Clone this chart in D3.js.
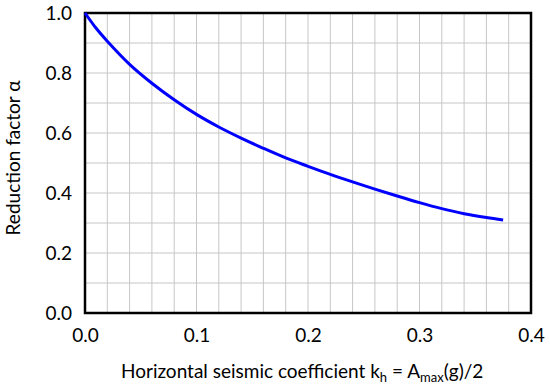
<!DOCTYPE html>
<html>
<head>
<meta charset="utf-8">
<script src="https://cdn.jsdelivr.net/npm/d3@7"></script>
<style>
  body { margin: 0; background: #fff; }
  text { font-family: Lato, "Open Sans", sans-serif; fill: #000; }
</style>
</head>
<body>
<svg id="chart" width="550" height="388"></svg>
<script>
// values
let khValues = [0, 0.01, 0.02, 0.04, 0.06, 0.08, 0.10, 0.12, 0.14, 0.16, 0.18, 0.20,
                0.22, 0.24, 0.26, 0.28, 0.30, 0.32, 0.34, 0.36, 0.375]
let alphaValues = [1.0, 0.949, 0.906, 0.829, 0.766, 0.711, 0.662, 0.62, 0.583, 0.549, 0.517, 0.489,
                   0.462, 0.437, 0.413, 0.39, 0.368, 0.348, 0.331, 0.318, 0.31]
let xTicks = [0, 0.1, 0.2, 0.3, 0.4]
let yTicks = [0, 0.2, 0.4, 0.6, 0.8, 1.0]
let xGrid = d3.range(0, 0.4001, 0.02)
let yGrid = d3.range(0, 1.0001, 0.1)

let margin = {left: 85, top: 13, right: 19, bottom: 75}
let width = 550 - margin.left - margin.right
let height = 388 - margin.top - margin.bottom

let svg = d3.select('#chart')
let g = svg.append('g').attr('transform', `translate(${margin.left},${margin.top})`)

let x = d3.scaleLinear().domain([0, 0.4]).range([0, width])
let y = d3.scaleLinear().domain([0, 1]).range([height, 0])

// grid
g.append('g').selectAll('line')
    .data(xGrid)
    .enter()
    .append('line')
    .attr('x1', d => x(d)).attr('x2', d => x(d))
    .attr('y1', 0).attr('y2', height)
    .attr('stroke', '#c6c6c6')
    .attr('stroke-width', 1)

g.append('g').selectAll('line')
    .data(yGrid)
    .enter()
    .append('line')
    .attr('x1', 0).attr('x2', width)
    .attr('y1', d => y(d)).attr('y2', d => y(d))
    .attr('stroke', '#c6c6c6')
    .attr('stroke-width', 1)

// axes (labels only, the frame is drawn below)
let xAxis = g.append('g')
    .attr('transform', `translate(0,${height})`)
    .call(d3.axisBottom(x).tickValues(xTicks).tickSize(0).tickPadding(16).tickFormat(d3.format('.1f')))
xAxis.select('.domain').remove()
xAxis.selectAll('text').style('font-size', '19px').style('font-family', 'Lato, sans-serif')

let yAxis = g.append('g')
    .call(d3.axisLeft(y).tickValues(yTicks).tickSize(0).tickPadding(13).tickFormat(d3.format('.1f')))
yAxis.select('.domain').remove()
yAxis.selectAll('text').style('font-size', '19px').style('font-family', 'Lato, sans-serif')

// frame
g.append('rect')
    .attr('x', 0).attr('y', 0)
    .attr('width', width).attr('height', height)
    .attr('fill', 'none')
    .attr('stroke', '#000')
    .attr('stroke-width', 2.5)

// curve
let pts = khValues.map((k, i) => [k, alphaValues[i]])
let line = d3.line()
    .x(d => x(d[0]))
    .y(d => y(d[1]))
    .curve(d3.curveCatmullRom.alpha(0.5))

g.append('path')
    .datum(pts)
    .attr('d', line)
    .attr('fill', 'none')
    .attr('stroke', '#0000ff')
    .attr('stroke-width', 3)

// x label
let xl = svg.append('text')
    .attr('x', 121)
    .attr('y', 378)
    .style('font-size', '19px')
xl.append('tspan').text('Horizontal seismic coefficient k')
xl.append('tspan').text('h').attr('dy', 4).style('font-size', '13px')
xl.append('tspan').text(' = A').attr('dy', -4)
xl.append('tspan').text('max').attr('dy', 4).style('font-size', '13px')
xl.append('tspan').text('(g)/2').attr('dy', -4)

// y label
svg.append('text')
    .attr('transform', `translate(20,158) rotate(-90)`)
    .attr('text-anchor', 'middle')
    .style('font-size', '19px')
    .text('Reduction factor α')
</script>
</body>
</html>
